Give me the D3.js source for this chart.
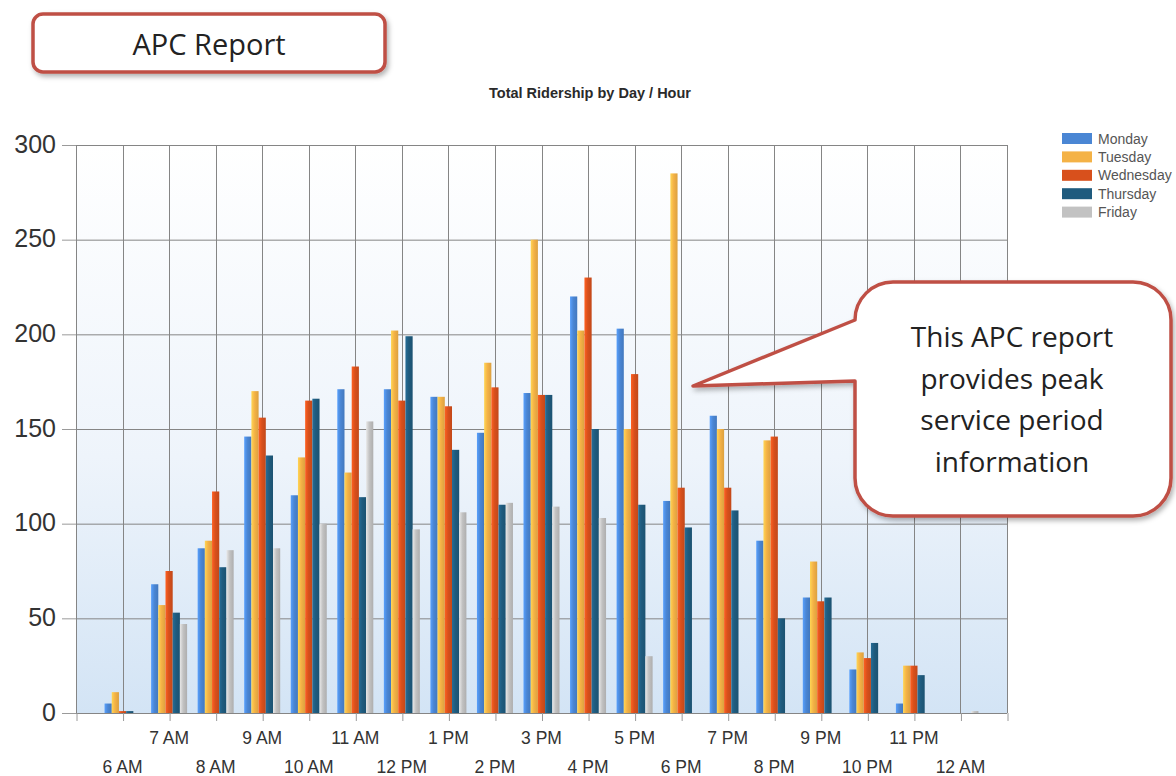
<!DOCTYPE html>
<html>
<head>
<meta charset="utf-8">
<style>
  body { margin: 0; background: #fff; }
  svg { display: block; font-family: "Liberation Sans", Arial, sans-serif; }
  .axis .domain { display: none; }
  .axis .tick line { stroke: #9a9a9a; }
  .axis .tick text { fill: #333; }
  .grid line { stroke: #858585; stroke-width: 1px; }
  .legend text { font-size: 14px; fill: #555; }
  .note { font-family: "Open Sans", "Noto Sans", sans-serif; fill: #222; }
</style>
</head>
<body>
<div id="chart"></div>
<script src="https://d3js.org/d3.v7.min.js"></script>
<script>
var hours = ["6 AM", "7 AM", "8 AM", "9 AM", "10 AM", "11 AM", "12 PM", "1 PM", "2 PM", "3 PM",
  "4 PM", "5 PM", "6 PM", "7 PM", "8 PM", "9 PM", "10 PM", "11 PM", "12 AM"];
var days = ["Monday", "Tuesday", "Wednesday", "Thursday", "Friday"];
var monday    = [5, 68, 87, 146, 115, 171, 171, 167, 148, 169, 220, 203, 112, 157, 91, 61, 23, 5, 0];
var tuesday   = [11, 57, 91, 170, 135, 127, 202, 167, 185, 250, 202, 150, 285, 150, 144, 80, 32, 25, 0];
var wednesday = [1, 75, 117, 156, 165, 183, 165, 162, 172, 168, 230, 179, 119, 119, 146, 59, 29, 25, 0];
var thursday  = [1, 53, 77, 136, 166, 114, 199, 139, 110, 168, 150, 110, 98, 107, 50, 61, 37, 20, 0];
var friday    = [0, 47, 86, 87, 100, 154, 97, 106, 111, 109, 103, 30, 0, 0, 0, 0, 0, 0, 1];
var yTicks = [0, 50, 100, 150, 200, 250, 300];
var noteLines = ["This APC report", "provides peak", "service period", "information"];

var series = [monday, tuesday, wednesday, thursday, friday];
var colors = ["#4a86d4", "#f4b246", "#d8501c", "#1f5b7e", "#c2c2c2"];

var W = 1176, H = 776;
var svg = d3.select("#chart").append("svg").attr("width", W).attr("height", H);
var defs = svg.append("defs");

// soft shadow for the red-bordered boxes
var shadow = defs.append("filter").attr("id", "shadow")
    .attr("x", "-10%").attr("y", "-10%").attr("width", "125%").attr("height", "130%");
shadow.append("feDropShadow").attr("dx", 2).attr("dy", 3).attr("stdDeviation", 2.5)
    .attr("flood-color", "#000").attr("flood-opacity", 0.3);

var bg = defs.append("linearGradient").attr("id", "plotbg")
    .attr("x1", 0).attr("y1", 0).attr("x2", 0).attr("y2", 1);
bg.append("stop").attr("offset", "0%").attr("stop-color", "#ffffff");
bg.append("stop").attr("offset", "55%").attr("stop-color", "#eef4fb");
bg.append("stop").attr("offset", "100%").attr("stop-color", "#d3e4f5");

// bar shading, lighter on the left edge
colors.forEach(function(c, i) {
  var g = defs.append("linearGradient").attr("id", "bar" + i);
  g.append("stop").attr("offset", "0%").attr("stop-color", d3.color(c).brighter(0.5));
  g.append("stop").attr("offset", "45%").attr("stop-color", c);
  g.append("stop").attr("offset", "100%").attr("stop-color", d3.color(c).darker(0.3));
});

var x = d3.scaleLinear().domain([-1, hours.length]).range([76, 1007]);
var y = d3.scaleLinear().domain([0, 300]).range([713, 145]);
var inner = d3.scaleBand().domain(d3.range(days.length)).range([-18, 18]);

// plot background
svg.append("rect")
    .attr("x", x(-1)).attr("y", y(300))
    .attr("width", x(hours.length) - x(-1)).attr("height", y(0) - y(300))
    .attr("fill", "url(#plotbg)");

// grid
var grid = svg.append("g").attr("class", "grid");
grid.selectAll("line.h").data(yTicks).enter().append("line").attr("class", "h")
    .attr("x1", x(-1)).attr("x2", x(hours.length))
    .attr("y1", function(d) { return y(d) + 0.5; }).attr("y2", function(d) { return y(d) + 0.5; });
grid.selectAll("line.v").data(d3.range(-1, hours.length + 1)).enter().append("line").attr("class", "v")
    .attr("x1", function(d) { return Math.round(x(d)) + 0.5; })
    .attr("x2", function(d) { return Math.round(x(d)) + 0.5; })
    .attr("y1", y(300)).attr("y2", y(0));

// bars
var groups = svg.append("g").selectAll("g").data(series).enter().append("g")
    .attr("fill", function(d, i) { return "url(#bar" + i + ")"; });
groups.each(function(vals, si) {
  d3.select(this).selectAll("rect").data(vals).enter().append("rect")
      .attr("x", function(d, i) { return x(i) + inner(si); })
      .attr("width", inner.bandwidth())
      .attr("y", function(d) { return y(d); })
      .attr("height", function(d) { return y(0) - y(d); });
});

// y axis
svg.append("g").attr("class", "axis")
    .attr("transform", "translate(" + x(-1) + ",0)")
    .call(d3.axisLeft(y).tickValues(yTicks).tickSize(14).tickPadding(6))
    .selectAll("text").style("font-size", "25px").attr("dy", "0.28em");

// x axis: ticks only, labels staggered in two rows
var xAxis = svg.append("g").attr("class", "axis")
    .attr("transform", "translate(0," + y(0) + ")")
    .call(d3.axisBottom(x).tickValues(d3.range(-1, hours.length + 1)).tickSize(8).tickFormat(""));
xAxis.selectAll(".tick line").attr("transform", "translate(0.5,0)");

svg.append("g").selectAll("text").data(hours).enter().append("text")
    .attr("x", function(d, i) { return x(i); })
    .attr("y", function(d, i) { return i % 2 ? 744 : 773; })
    .attr("text-anchor", "middle")
    .style("font-size", "17.5px").style("fill", "#333")
    .text(function(d) { return d; });

// chart title
svg.append("text")
    .attr("x", 590).attr("y", 98).attr("text-anchor", "middle")
    .style("font-size", "14.5px").style("font-weight", "bold").style("fill", "#2a2a2a")
    .text("Total Ridership by Day / Hour");

// legend
var legend = svg.append("g").attr("class", "legend")
    .selectAll("g").data(days).enter().append("g")
    .attr("transform", function(d, i) { return "translate(1062," + (133 + i * 18.4) + ")"; });
legend.append("rect").attr("width", 30).attr("height", 11)
    .attr("fill", function(d, i) { return colors[i]; });
legend.append("text").attr("x", 36).attr("y", 10.5).text(function(d) { return d; });

// "APC Report" box
svg.append("rect")
    .attr("x", 33).attr("y", 14).attr("width", 352).attr("height", 58).attr("rx", 10)
    .attr("fill", "#fff").attr("stroke", "#bf4f45").attr("stroke-width", 3.5)
    .attr("filter", "url(#shadow)");
svg.append("text").attr("class", "note")
    .attr("x", 209).attr("y", 55).attr("text-anchor", "middle")
    .style("font-size", "29px").text("APC Report");

// callout
var bx0 = 855, by0 = 282, bx1 = 1171, by1 = 516, r = 38;
var callout = d3.path();
callout.moveTo(693, 386);
callout.lineTo(bx0, by0 + r);
callout.arcTo(bx0, by0, bx0 + r, by0, r);
callout.lineTo(bx1 - r, by0);
callout.arcTo(bx1, by0, bx1, by0 + r, r);
callout.lineTo(bx1, by1 - r);
callout.arcTo(bx1, by1, bx1 - r, by1, r);
callout.lineTo(bx0 + r, by1);
callout.arcTo(bx0, by1, bx0, by1 - r, r);
callout.lineTo(bx0, 381);
callout.closePath();
svg.append("path").attr("d", callout.toString())
    .attr("fill", "#fff").attr("stroke", "#bf4f45").attr("stroke-width", 3.5)
    .attr("stroke-linejoin", "round").attr("filter", "url(#shadow)");
svg.append("g").selectAll("text").data(noteLines).enter().append("text")
    .attr("class", "note")
    .attr("x", 1012).attr("y", function(d, i) { return 347 + i * 41.5; })
    .attr("text-anchor", "middle").style("font-size", "28px")
    .text(function(d) { return d; });
</script>
</body>
</html>
